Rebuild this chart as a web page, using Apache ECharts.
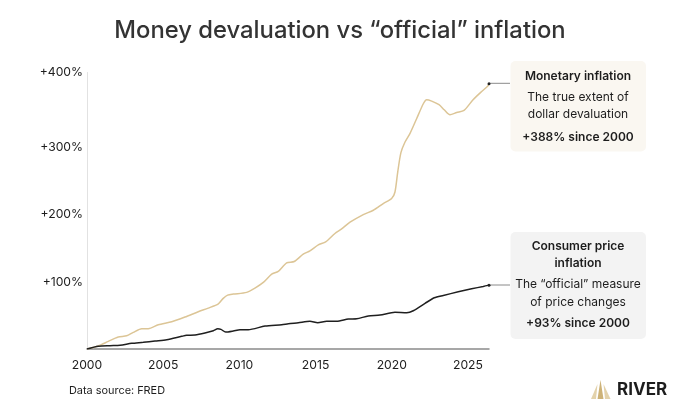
<!DOCTYPE html>
<html><head><meta charset="utf-8">
<script src="https://cdn.jsdelivr.net/npm/echarts@6/dist/echarts.min.js"></script>
<style>html,body{margin:0;padding:0;background:#fff}#c{width:680px;height:408px}</style>
</head><body><div id="c"></div>
<script>
const monetaryInflation = [[2000,0],[2000.74,4.3],[2001.4,11.1],[2002.05,17.3],[2002.6,19.2],[2003.04,24.1],[2003.59,29.3],[2004.02,29.3],[2004.68,35.1],[2005.56,39.4],[2006.43,46.2],[2007.3,53.9],[2007.96,59.2],[2008.62,65.4],[2008.94,73.2],[2009.23,78],[2009.6,79.4],[2010.48,81.9],[2011.02,88.1],[2011.57,96.3],[2012.12,108.3],[2012.55,112.2],[2013.1,124.6],[2013.6,126.6],[2014.19,137.2],[2014.63,141.9],[2015.18,150.6],[2015.66,154.9],[2016.27,167.1],[2016.71,173.7],[2017.26,183.4],[2018.13,194.5],[2018.79,200.7],[2019.44,210.4],[2019.99,217.6],[2020.21,227.1],[2020.39,256],[2020.6,284],[2020.87,299.4],[2021.19,311.5],[2021.63,333.1],[2022.07,354.8],[2022.29,360.6],[2022.62,358.6],[2023.1,353.4],[2023.44,346.1],[2023.82,338.9],[2024.26,342.2],[2024.74,345.1],[2025.35,361],[2025.9,372.6],[2026.29,380.2],[2026.38,383.7]];
const consumerPrices = [[2000,0],[2000.74,3.9],[2001.51,4.8],[2002.17,5.3],[2002.93,8.2],[2003.69,9.7],[2004.46,11.6],[2005.23,13.4],[2006.21,18.3],[2006.54,19.8],[2007.09,20.2],[2007.74,23.1],[2008.29,26.4],[2008.58,29.3],[2008.79,28.4],[2009.1,24.5],[2009.6,26],[2010.04,27.9],[2010.58,27.9],[2011.68,33.2],[2012.78,35.1],[2013.21,36.5],[2013.87,38],[2014.63,40],[2015.14,38],[2015.73,40],[2016.38,40],[2017.15,43.3],[2017.7,43.8],[2018.46,47.7],[2019.23,49.1],[2020.21,53],[2020.98,52.4],[2021.41,55.3],[2022.18,66],[2022.79,74.1],[2023.38,77.5],[2024.36,82.7],[2025.24,87.1],[2026,90.5],[2026.38,92.4]];
const yTickLabels = ['+100%','+200%','+300%','+400%'];
const yTickAt = [97,195,292,400];
const FONT = 'Inter';
const INK = '#1d1d1d';

function boxText(lines){
  return lines.map(([t,y,bold]) => ({type:'text',style:{text:t,x:578,y,align:'center',verticalAlign:'middle',font:(bold?'600 ':'400 ')+'12px '+FONT,fill:INK}}));
}
function connector(y){
  return {type:'line',shape:{x1:489,y1:y,x2:510,y2:y},style:{stroke:'#8a8a8a',lineWidth:1}};
}
const lastPoint = s => ({symbol:'circle',symbolSize:3,silent:true,itemStyle:{color:'#222'},label:{show:false},data:[{coord:s[s.length-1]}]});

const chart = echarts.init(document.getElementById('c'),null,{renderer:'canvas'});
chart.setOption({
  animation:false,
  backgroundColor:'#fff',
  title:{text:'Money devaluation vs “official” inflation',left:'center',top:14,textStyle:{fontFamily:FONT,fontWeight:500,fontSize:23.8,color:'#333'}},
  grid:{left:87,right:191,top:72.5,bottom:59},
  xAxis:{type:'value',min:2000,max:2026.38,interval:5,
    axisLine:{show:true,lineStyle:{color:'#8a8a8a',width:1.5}},axisTick:{show:false},splitLine:{show:false},
    axisLabel:{showMaxLabel:false,margin:10,fontFamily:FONT,fontSize:12.2,color:INK,formatter:v=>String(v)}},
  yAxis:{type:'value',min:0,max:400,
    axisLine:{show:true,lineStyle:{color:'#e2e2e2',width:1}},axisTick:{show:false},splitLine:{show:false},
    axisLabel:{customValues:yTickAt,margin:4,fontFamily:FONT,fontSize:12.2,color:INK,formatter:v=>yTickLabels[yTickAt.indexOf(v)]}},
  series:[
    {name:'Monetary inflation',type:'line',data:monetaryInflation,smooth:0.25,showSymbol:false,lineStyle:{color:'#dcc596',width:1.5},markPoint:lastPoint(monetaryInflation),z:2},
    {name:'Consumer price inflation',type:'line',data:consumerPrices,smooth:0.25,showSymbol:false,lineStyle:{color:'#1f1f1f',width:1.5},markPoint:lastPoint(consumerPrices),z:3}
  ],
  graphic:[
    connector(83.3),connector(285),
    {type:'rect',shape:{x:510.5,y:61,width:135.5,height:90.5,r:5},style:{fill:'#faf7f1'}},
    {type:'rect',shape:{x:510.5,y:232,width:135.5,height:107,r:5},style:{fill:'#f3f3f3'}},
    ...boxText([['Monetary inflation',76,1],['The true extent of',97,0],['dollar devaluation',114,0],['+388% since 2000',137,1]]),
    ...boxText([['Consumer price',246.5,1],['inflation',263.5,1],['The “official” measure',284.5,0],['of price changes',302,0],['+93% since 2000',323,1]]),
    {type:'text',style:{text:'Data source: FRED',x:69,y:390.5,verticalAlign:'middle',font:'400 10.9px '+FONT,fill:INK}},
    {type:'text',style:{text:'RIVER',x:617,y:389.5,verticalAlign:'middle',font:'700 17px '+FONT,fill:'#1d1d1d'}},
    {type:'polygon',shape:{points:[[591,399],[597.5,384],[596,399]]},style:{fill:'#e3d2ab'}},
    {type:'polygon',shape:{points:[[597.5,399],[600.5,380],[603.5,399]]},style:{fill:'#cdb277'}},
    {type:'polygon',shape:{points:[[605,399],[603.5,384],[610.5,399]]},style:{fill:'#e3d2ab'}}
  ]
});
</script></body></html>
